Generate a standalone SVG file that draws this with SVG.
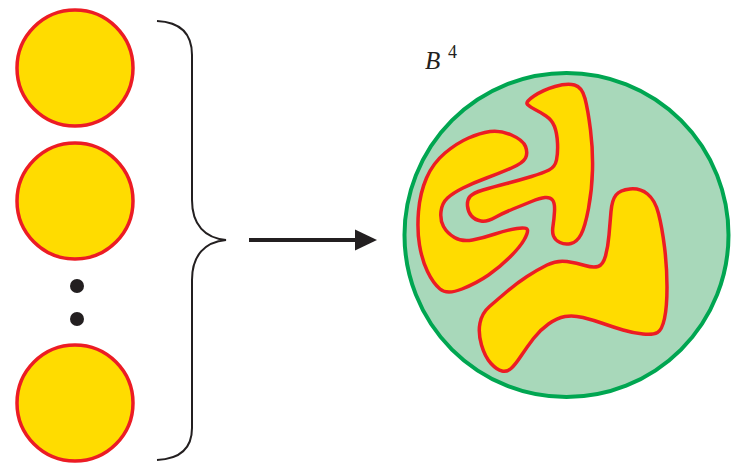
<svg xmlns="http://www.w3.org/2000/svg" width="731" height="470" viewBox="0 0 731 470">
<style>
.disc{fill:#FFDC00;stroke:#EC1C24;stroke-width:3.5}
.blob{fill:#FFDC00;stroke:#EC1C24;stroke-width:3.5;stroke-linejoin:round}
.dot{fill:#231F20}
.brace{fill:none;stroke:#231F20;stroke-width:2}
.lbl{font-family:"Liberation Serif",serif;fill:#231F20}
</style>
<rect width="731" height="470" fill="#fff"/>
<g id="disc1"><circle class="disc" cx="75" cy="68" r="58"/></g>
<g id="disc2"><circle class="disc" cx="75" cy="201" r="58"/></g>
<g id="ellipsis"><circle class="dot" cx="77" cy="286" r="7"/><circle class="dot" cx="77" cy="319" r="7"/></g>
<g id="disc3"><circle class="disc" cx="75" cy="403" r="58"/></g>
<g id="brace"><path class="brace" d="M157,21 C178,22 192,32 192,55 L192,200 C192,225 205,238 226,240 C205,242 192,255 192,280 L192,428 C192,450 178,459 157,460"/></g>
<g id="connectors">
<line x1="249" y1="240" x2="357" y2="240" stroke="#231F20" stroke-width="4"/>
<polygon points="355,229.5 377,240 355,250.5" fill="#231F20"/>
</g>
<g id="ball">
<circle cx="566.5" cy="235" r="162" fill="#A8D8BA" stroke="#00A651" stroke-width="4"/>
<path class="blob" d="M527.5,104.5 Q525,102 534,96 Q543,90 555,86.5 Q567,83 574.5,85 Q582,87 585,98.5 Q588,110 590.5,130 Q593,150 592.5,170 Q592,190 588.5,208.5 Q585,227 581,234.5 Q577,242 571,243.5 Q565,245 560,242.5 Q555,240 553.5,236 Q552,232 553,226 Q554,220 554.5,211.5 Q555,203 552.5,200 Q550,197 545,197.5 Q540,198 531.5,201.5 Q523,205 513,209 Q503,213 495,217.5 Q487,222 481,221 Q475,220 471.5,216 Q468,212 467.5,206 Q467,200 470,196.5 Q473,193 483,190 Q493,187 506.5,183.5 Q520,180 531.5,176.5 Q543,173 549,170 Q555,167 556.5,160 Q558,153 557.5,143 Q557,133 554.5,126.5 Q552,120 546,116 Q540,112 535,109.5 Q530,107 527.5,104.5 Z"/>
<path class="blob" d="M490,131.5 Q500,130 511.5,135 Q523,140 525.5,146.5 Q528,153 525.5,158 Q523,163 511.5,168 Q500,173 486.5,178 Q473,183 463,188 Q453,193 447.5,198 Q442,203 441,211.5 Q440,220 443.5,226.5 Q447,233 454.5,237.5 Q462,242 472.5,240 Q483,238 495,234 Q507,230 517,228.5 Q527,227 527.5,230 Q528,233 524,240 Q520,247 510,257 Q500,267 488.5,275 Q477,283 462,289 Q447,295 440,289 Q433,283 427.5,271.5 Q422,260 419.5,245 Q417,230 418.5,211.5 Q420,193 426.5,178 Q433,163 445,153 Q457,143 468.5,138 Q480,133 490,131.5 Z"/>
<path class="blob" d="M616,195 Q620,190 630,189 Q640,188 647.5,194 Q655,200 658.5,213.5 Q662,227 664.5,247 Q667,267 667,287 Q667,307 664.5,318.5 Q662,330 657.5,332.5 Q653,335 643,334 Q633,333 623,330 Q613,327 603,323.5 Q593,320 583,317.5 Q573,315 565,316.5 Q557,318 548.5,324 Q540,330 533.5,338.5 Q527,347 521,356 Q515,365 511,368.5 Q507,372 502,371 Q497,370 491,363.5 Q485,357 481.5,345 Q478,333 480,323 Q482,313 489.5,306.5 Q497,300 507,291.5 Q517,283 527,276.5 Q537,270 547,265 Q557,260 567,261.5 Q577,263 585,265.5 Q593,268 598,266.5 Q603,265 605.5,256 Q608,247 609,235 Q610,223 611,211.5 Q612,200 616,195 Z"/>
</g>
<g id="label"><text class="lbl" x="425" y="69" font-size="25" font-style="italic">B</text><text class="lbl" x="448" y="58" font-size="18">4</text></g>
</svg>
